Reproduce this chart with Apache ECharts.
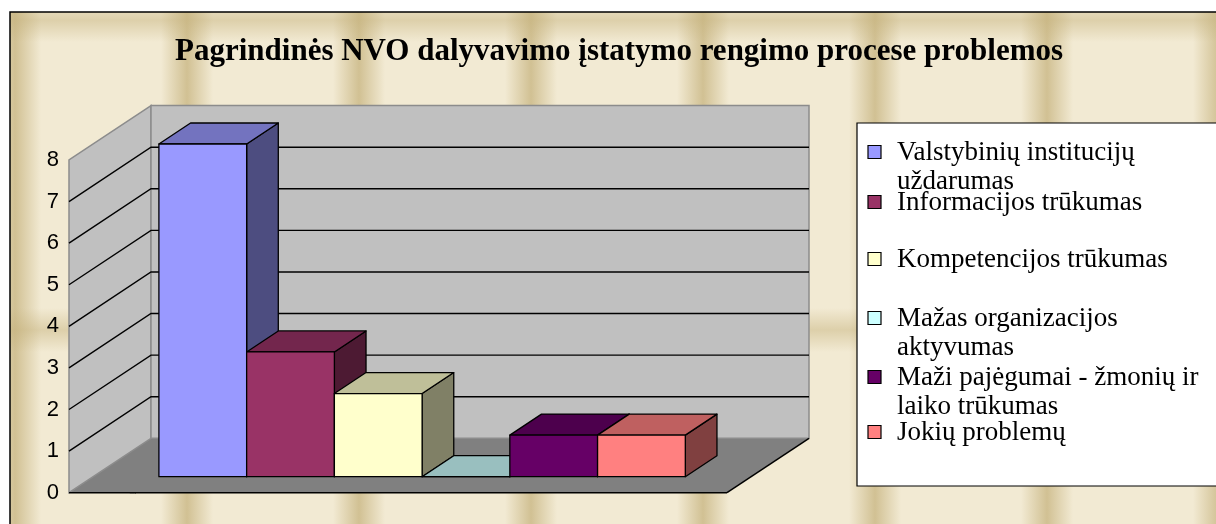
<!DOCTYPE html>
<html>
<head>
<meta charset="utf-8">
<script src="https://cdn.jsdelivr.net/npm/echarts@6/dist/echarts.min.js"></script>
<style>
  html, body { margin: 0; padding: 0; background: #ffffff; }
  #main { width: 1216px; height: 524px; }
</style>
</head>
<body>
<div id="main"></div>
<script>
var titleText = 'Pagrindinės NVO dalyvavimo įstatymo rengimo procese problemos';
var categories = [
  'Valstybinių institucijų uždarumas',
  'Informacijos trūkumas',
  'Kompetencijos trūkumas',
  'Mažas organizacijos aktyvumas',
  'Maži pajėgumai - žmonių ir laiko trūkumas',
  'Jokių problemų'
];
var legendLabels = [
  'Valstybinių institucijų\nuždarumas',
  'Informacijos trūkumas',
  'Kompetencijos trūkumas',
  'Mažas organizacijos\naktyvumas',
  'Maži pajėgumai - žmonių ir\nlaiko trūkumas',
  'Jokių problemų'
];
var values = [8, 3, 2, 0, 1, 1];
var colors = ['#9999FF', '#993366', '#FFFFCC', '#CCFFFF', '#660066', '#FF8080'];
var yTicks = [0, 1, 2, 3, 4, 5, 6, 7, 8];

// oblique 3d projection (pixels for the full floor depth)
var DEPTH = [82, -54.4];
var BAR_FRONT = 0.294, BAR_BACK = 0.68;
var X_MIN = -0.75, X_MAX = 6.75;

function shade(hex, k) {
  var n = parseInt(hex.slice(1), 16);
  var r = Math.round(((n >> 16) & 255) * k);
  var g = Math.round(((n >> 8) & 255) * k);
  var b = Math.round((n & 255) * k);
  return 'rgb(' + r + ',' + g + ',' + b + ')';
}

function proj(api, x, y, d) {
  var p = api.coord([x, y]);
  return [p[0] + DEPTH[0] * d, p[1] + DEPTH[1] * d];
}

// parchment-like texture tile
function makeTexture() {
  var c = document.createElement('canvas');
  c.width = 172; c.height = 310;
  var ctx = c.getContext('2d');
  ctx.fillStyle = '#F2EAD3';
  ctx.fillRect(0, 0, c.width, c.height);
  [15, 187].forEach(function (cx) {
    var g = ctx.createLinearGradient(cx - 26, 0, cx + 26, 0);
    g.addColorStop(0, 'rgba(195,175,120,0)');
    g.addColorStop(0.5, 'rgba(195,175,120,0.7)');
    g.addColorStop(1, 'rgba(195,175,120,0)');
    ctx.fillStyle = g;
    ctx.fillRect(cx - 26, 0, 52, c.height);
  });
  [20, 330].forEach(function (cy) {
    var g = ctx.createLinearGradient(0, cy - 22, 0, cy + 22);
    g.addColorStop(0, 'rgba(195,175,120,0)');
    g.addColorStop(0.5, 'rgba(195,175,120,0.45)');
    g.addColorStop(1, 'rgba(195,175,120,0)');
    ctx.fillStyle = g;
    ctx.fillRect(0, cy - 22, c.width, 44);
  });
  return c;
}

function renderWalls(params, api) {
  var ymax = yTicks[yTicks.length - 1];
  var a = proj(api, X_MIN, 0, 0), b = proj(api, X_MAX, 0, 0);
  var c = proj(api, X_MAX, 0, 1), d = proj(api, X_MIN, 0, 1);
  var e = proj(api, X_MAX, ymax, 1), f = proj(api, X_MIN, ymax, 1);
  var g = proj(api, X_MIN, ymax, 0);
  var children = [
    { type: 'polygon', shape: { points: [a, b, c, d] }, style: { fill: '#808080' } },
    { type: 'polygon', shape: { points: [a, d, f, g] }, style: { fill: '#C0C0C0', stroke: '#8C8C8C', lineWidth: 1.5 } },
    { type: 'polygon', shape: { points: [d, c, e, f] }, style: { fill: '#C0C0C0', stroke: '#8C8C8C', lineWidth: 1.5 } },
    { type: 'line', shape: { x1: a[0], y1: a[1], x2: b[0], y2: b[1] }, style: { stroke: '#000', lineWidth: 1.5 } },
    { type: 'line', shape: { x1: b[0], y1: b[1], x2: c[0], y2: c[1] }, style: { stroke: '#000', lineWidth: 1.5 } }
  ];
  yTicks.forEach(function (v) {
    if (v === 0 || v === ymax) return;
    var p0 = proj(api, X_MIN, v, 0), p1 = proj(api, X_MIN, v, 1), p2 = proj(api, X_MAX, v, 1);
    children.push({ type: 'polyline', shape: { points: [p0, p1, p2] }, style: { stroke: '#000', lineWidth: 1.4, fill: null } });
  });
  return { type: 'group', children: children };
}

function makeBarRenderer(color) {
  return function (params, api) {
    var x0 = api.value(0), x1 = x0 + 1, v = api.value(1);
    var ff = [proj(api, x0, 0, BAR_FRONT), proj(api, x1, 0, BAR_FRONT), proj(api, x1, v, BAR_FRONT), proj(api, x0, v, BAR_FRONT)];
    var top = [proj(api, x0, v, BAR_FRONT), proj(api, x1, v, BAR_FRONT), proj(api, x1, v, BAR_BACK), proj(api, x0, v, BAR_BACK)];
    var side = [proj(api, x1, 0, BAR_FRONT), proj(api, x1, 0, BAR_BACK), proj(api, x1, v, BAR_BACK), proj(api, x1, v, BAR_FRONT)];
    var st = { stroke: '#000', lineWidth: 1.3, lineJoin: 'round' };
    return {
      type: 'group',
      children: [
        { type: 'polygon', shape: { points: side }, style: Object.assign({ fill: shade(color, 0.5) }, st) },
        { type: 'polygon', shape: { points: top }, style: Object.assign({ fill: shade(color, 0.75) }, st) },
        { type: 'polygon', shape: { points: ff }, style: Object.assign({ fill: color }, st) }
      ]
    };
  };
}

var series = [{
  type: 'custom', name: 'walls', z: 1, clip: false, silent: true,
  renderItem: renderWalls, data: [[0, 0]]
}];
categories.forEach(function (name, i) {
  series.push({
    type: 'custom', name: name, z: 2 + i, clip: false,
    itemStyle: { color: colors[i] },
    renderItem: makeBarRenderer(colors[i]),
    data: [[i, values[i]]]
  });
});

var legendCenters = [152, 202, 259, 318, 377, 432];
var legendChildren = [{
  type: 'rect', shape: { x: 857, y: 123, width: 420, height: 363 },
  style: { fill: '#ffffff', stroke: '#000', lineWidth: 1.2 }
}];
legendLabels.forEach(function (label, i) {
  var cy = legendCenters[i];
  legendChildren.push({
    type: 'rect', shape: { x: 868, y: cy - 6.5, width: 13, height: 13 },
    style: { fill: colors[i], stroke: '#000', lineWidth: 1.2 }
  });
  legendChildren.push({
    type: 'text', x: 897, y: cy - 14,
    style: {
      text: label, fill: '#000', fontSize: 27, fontFamily: '"Liberation Serif", "Times New Roman", serif',
      lineHeight: 29, verticalAlign: 'top'
    }
  });
});

var chart = echarts.init(document.getElementById('main'), null, { renderer: 'canvas' });
chart.setOption({
  animation: false,
  title: {
    text: titleText, left: 175, top: 36, padding: 0,
    textStyle: { fontFamily: '"Liberation Serif", "Times New Roman", serif', fontWeight: 'bold', fontSize: 31, color: '#000' }
  },
  graphic: [
    {
      type: 'rect', z: -10, silent: true,
      shape: { x: 10, y: 12, width: 1230, height: 540 },
      style: { fill: { image: makeTexture(), repeat: 'repeat' }, stroke: '#000', lineWidth: 1.5 }
    },
    { type: 'group', z: 50, children: legendChildren }
  ],
  grid: { left: 69, top: 160, width: 658, height: 332.7, containLabel: false },
  xAxis: { type: 'value', min: X_MIN, max: X_MAX, show: false },
  yAxis: {
    type: 'value', min: 0, max: 8, interval: 1,
    axisLine: { show: true, lineStyle: { color: '#000', width: 1.4 } },
    axisTick: { show: true, length: 5, lineStyle: { color: '#000', width: 1.4 } },
    axisLabel: { color: '#000', fontSize: 22, fontFamily: '"Liberation Sans", Arial, sans-serif', margin: 10 },
    splitLine: { show: false }
  },
  series: series
});
</script>
</body>
</html>
